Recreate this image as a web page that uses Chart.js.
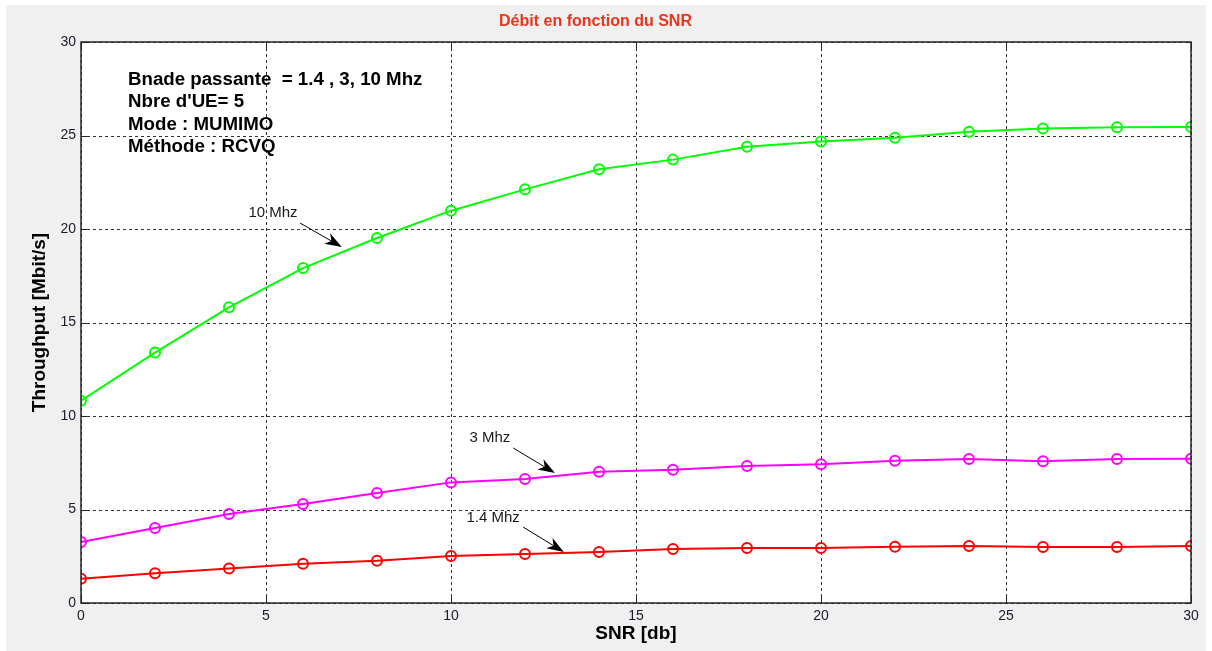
<!DOCTYPE html>
<html>
<head>
<meta charset="utf-8">
<script src="https://cdn.jsdelivr.net/npm/chart.js@4.4.1/dist/chart.umd.min.js"></script>
<style>
    html, body { margin: 0; padding: 0; background: #ffffff; }
    #boite { position: absolute; left: 0; top: 0; width: 1212px; height: 651px; }
</style>
</head>
<body>
<div id="boite"><canvas id="grafico"></canvas></div>
<script>
const snr = [0, 2, 4, 6, 8, 10, 12, 14, 16, 18, 20, 22, 24, 26, 28, 30];

const debit10 = [10.82, 13.39, 15.81, 17.91, 19.52, 20.98, 22.12, 23.19, 23.71, 24.40, 24.68, 24.88, 25.20, 25.38, 25.44, 25.45];
const debit3 = [3.26, 4.01, 4.76, 5.29, 5.88, 6.45, 6.63, 7.02, 7.13, 7.33, 7.42, 7.61, 7.70, 7.58, 7.70, 7.72];
const debit14 = [1.30, 1.59, 1.84, 2.10, 2.26, 2.51, 2.62, 2.73, 2.89, 2.94, 2.94, 3.01, 3.05, 2.99, 2.99, 3.05];

const titre = "Débit en fonction du SNR";
const infos = [
    "Bnade passante  = 1.4 , 3, 10 Mhz",
    "Nbre d'UE= 5",
    "Mode : MUMIMO",
    "Méthode : RCVQ"
];

// etiquettes avec fleche : texte, position du texte, debut et fin de la fleche (en unites des axes)
const etiquettes = [
    { texte: "10 Mhz", tx: 5.19, ty: 20.86, x1: 5.92, y1: 20.32, x2: 7.05, y2: 19.04 },
    { texte: "3 Mhz", tx: 11.05, ty: 8.82, x1: 11.68, y1: 8.29, x2: 12.81, y2: 6.95 },
    { texte: "1.4 Mhz", tx: 11.14, ty: 4.55, x1: 11.95, y1: 4.06, x2: 13.05, y2: 2.73 }
];

const fond = {
    id: "fond",
    beforeDraw(chart) {
        const ctx = chart.ctx;
        const a = chart.chartArea;
        ctx.save();
        ctx.fillStyle = "#f0f0f0";
        ctx.fillRect(6, 5, 1200, 646);
        ctx.fillStyle = "#ffffff";
        ctx.fillRect(a.left, a.top, a.right - a.left, a.bottom - a.top);
        ctx.restore();
    }
};

const cadre = {
    id: "cadre",
    beforeDatasetsDraw(chart) {
        const ctx = chart.ctx;
        const a = chart.chartArea;
        const sx = chart.scales.x;
        const sy = chart.scales.y;
        ctx.save();
        // grille en pointilles
        ctx.strokeStyle = "#333333";
        ctx.lineWidth = 1;
        ctx.setLineDash([3, 3]);
        ctx.beginPath();
        sx.ticks.forEach(t => {
            const px = Math.round(sx.getPixelForValue(t.value)) + 0.5;
            ctx.moveTo(px, a.bottom); ctx.lineTo(px, a.top);
        });
        sy.ticks.forEach(t => {
            const py = Math.round(sy.getPixelForValue(t.value)) + 0.5;
            ctx.moveTo(a.left, py); ctx.lineTo(a.right, py);
        });
        ctx.stroke();
        // petites graduations interieures
        ctx.setLineDash([]);
        ctx.strokeStyle = "#262626";
        ctx.beginPath();
        sx.ticks.forEach(t => {
            const px = Math.round(sx.getPixelForValue(t.value)) + 0.5;
            ctx.moveTo(px, a.bottom); ctx.lineTo(px, a.bottom - 6);
            ctx.moveTo(px, a.top); ctx.lineTo(px, a.top + 6);
        });
        sy.ticks.forEach(t => {
            const py = Math.round(sy.getPixelForValue(t.value)) + 0.5;
            ctx.moveTo(a.left, py); ctx.lineTo(a.left + 6, py);
            ctx.moveTo(a.right, py); ctx.lineTo(a.right - 6, py);
        });
        ctx.stroke();
        ctx.restore();
    },
    afterDraw(chart) {
        const ctx = chart.ctx;
        const a = chart.chartArea;
        const sx = chart.scales.x;
        const sy = chart.scales.y;
        ctx.save();
        ctx.strokeStyle = "#262626";
        ctx.lineWidth = 1.5;
        ctx.strokeRect(a.left, a.top, a.right - a.left, a.bottom - a.top);

        // bloc d'infos
        ctx.fillStyle = "#000000";
        ctx.font = "bold 18.7px Arial, 'Liberation Sans', sans-serif";
        ctx.textBaseline = "middle";
        ctx.textAlign = "left";
        infos.forEach((ligne, i) => {
            ctx.fillText(ligne, a.left + 47, a.top + 37.5 + i * 22.6);
        });

        // etiquettes et fleches
        ctx.font = "15px Arial, 'Liberation Sans', sans-serif";
        ctx.textAlign = "center";
        etiquettes.forEach(e => {
            ctx.fillStyle = "#1a1a1a";
            ctx.fillText(e.texte, sx.getPixelForValue(e.tx), sy.getPixelForValue(e.ty));

            const x1 = sx.getPixelForValue(e.x1), y1 = sy.getPixelForValue(e.y1);
            const x2 = sx.getPixelForValue(e.x2), y2 = sy.getPixelForValue(e.y2);
            const ang = Math.atan2(y2 - y1, x2 - x1);
            const c = Math.cos(ang), s = Math.sin(ang);
            ctx.strokeStyle = "#000000";
            ctx.lineWidth = 1;
            ctx.beginPath();
            ctx.moveTo(x1, y1);
            ctx.lineTo(x2 - 12 * c, y2 - 12 * s);
            ctx.stroke();
            ctx.fillStyle = "#000000";
            ctx.beginPath();
            ctx.moveTo(x2, y2);
            ctx.lineTo(x2 - 17 * c + 6 * s, y2 - 17 * s - 6 * c);
            ctx.lineTo(x2 - 12 * c, y2 - 12 * s);
            ctx.lineTo(x2 - 17 * c - 6 * s, y2 - 17 * s + 6 * c);
            ctx.closePath();
            ctx.fill();
        });
        ctx.restore();
    }
};

function serie(valeurs, couleur) {
    return {
        data: snr.map((x, i) => ({ x: x, y: valeurs[i] })),
        borderColor: couleur,
        backgroundColor: "transparent",
        borderWidth: 2,
        pointStyle: "circle",
        pointRadius: 5,
        pointBorderWidth: 2,
        pointBorderColor: couleur,
        pointBackgroundColor: "transparent",
        tension: 0
    };
}

const police = "Arial, 'Liberation Sans', sans-serif";

const chart = new Chart(document.getElementById("grafico"), {
    type: "line",
    data: {
        datasets: [
            serie(debit10, "#00ff00"),
            serie(debit3, "#ff00ff"),
            serie(debit14, "#ff0000")
        ]
    },
    options: {
        responsive: true,
        maintainAspectRatio: false,
        animation: false,
        layout: { padding: { top: 0, right: 21, bottom: 0, left: 0 } },
        plugins: {
            legend: { display: false },
            tooltip: { enabled: false },
            title: {
                display: true,
                text: titre,
                color: "#e8361a",
                font: { family: police, size: 16, weight: "bold" },
                padding: { top: 11.5, bottom: 11.3 }
            }
        },
        scales: {
            x: {
                type: "linear",
                min: 0,
                max: 30,
                ticks: {
                    stepSize: 5,
                    color: "#1a1a2e",
                    padding: 5,
                    maxRotation: 0,
                    font: { family: police, size: 14 }
                },
                grid: { display: false, drawTicks: false },
                border: { display: false },
                title: {
                    display: true,
                    text: "SNR [db]",
                    color: "#000000",
                    font: { family: police, size: 19, weight: "bold" },
                    padding: { top: 0, bottom: 5.6 }
                },
                afterFit(scale) { scale.height = 48; }
            },
            y: {
                min: 0,
                max: 30,
                ticks: {
                    stepSize: 5,
                    color: "#1a1a2e",
                    padding: 5,
                    font: { family: police, size: 14 }
                },
                grid: { display: false, drawTicks: false },
                border: { display: false },
                title: {
                    display: true,
                    text: "Throughput [Mbit/s]",
                    color: "#000000",
                    font: { family: police, size: 19, weight: "bold" },
                    padding: { top: 28.6, bottom: 0 }
                },
                afterFit(scale) { scale.width = 81; }
            }
        }
    },
    plugins: [fond, cadre]
});
</script>
</body>
</html>
